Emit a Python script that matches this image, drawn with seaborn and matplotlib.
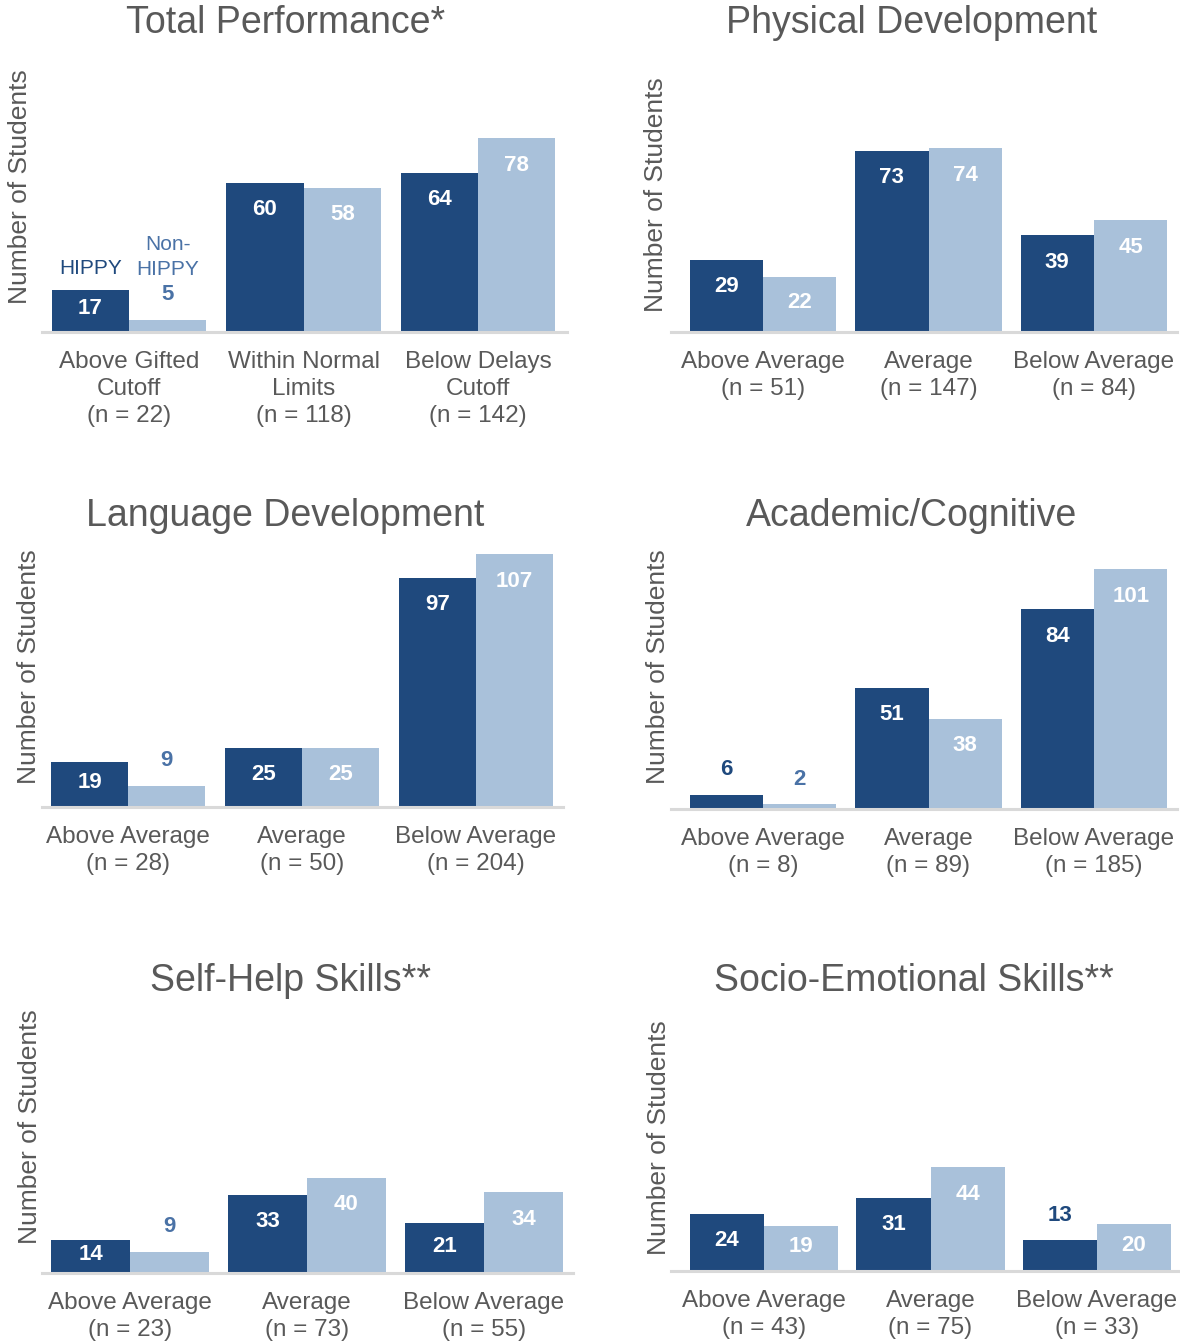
import matplotlib
matplotlib.use("Agg")
import matplotlib.pyplot as plt
import seaborn as sns
import pandas as pd

sns.set_theme(style="white")
plt.rcParams["font.family"] = ["Liberation Sans", "DejaVu Sans"]

# ---- data -------------------------------------------------------------
groups = ["HIPPY", "Non-HIPPY"]

total_cats = ["Above Gifted\nCutoff\n(n = 22)", "Within Normal\nLimits\n(n = 118)",
              "Below Delays\nCutoff\n(n = 142)"]
total_hippy = [17, 60, 64]
total_non = [5, 58, 78]

phys_cats = ["Above Average\n(n = 51)", "Average\n(n = 147)", "Below Average\n(n = 84)"]
phys_hippy = [29, 73, 39]
phys_non = [22, 74, 45]

lang_cats = ["Above Average\n(n = 28)", "Average\n(n = 50)", "Below Average\n(n = 204)"]
lang_hippy = [19, 25, 97]
lang_non = [9, 25, 107]

acad_cats = ["Above Average\n(n = 8)", "Average\n(n = 89)", "Below Average\n(n = 185)"]
acad_hippy = [6, 51, 84]
acad_non = [2, 38, 101]

self_cats = ["Above Average\n(n = 23)", "Average\n(n = 73)", "Below Average\n(n = 55)"]
self_hippy = [14, 33, 21]
self_non = [9, 40, 34]

socio_cats = ["Above Average\n(n = 43)", "Average\n(n = 75)", "Below Average\n(n = 33)"]
socio_hippy = [24, 31, 13]
socio_non = [19, 44, 20]

titles = ["Total Performance*", "Physical Development", "Language Development",
          "Academic/Cognitive", "Self-Help Skills**", "Socio-Emotional Skills**"]

# ---- style ------------------------------------------------------------
DARK = "#1F497D"
LIGHT = "#A9C1DA"
MID = "#4A72A6"
GREY = "#595959"
AXIS = "#D9D9D9"

W, H = 1180, 1344
fig = plt.figure(figsize=(W / 100, H / 100), dpi=100)
PX = 72 / 100  # points per pixel


def panel(cats, hippy, non, title, box, centers, scale, ylab_xy, title_xy,
          width=0.89, legend=False):
    L, R, B = box
    c0, c2 = centers
    top = B - 270
    ax = fig.add_axes([L / W, 1 - B / H, (R - L) / W, (B - top) / H])
    df = pd.DataFrame({
        "category": cats * 2,
        "group": [groups[0]] * 3 + [groups[1]] * 3,
        "count": list(hippy) + list(non),
    })
    sns.barplot(data=df, x="category", y="count", hue="group", order=cats,
                hue_order=groups, palette=[DARK, LIGHT], width=width,
                linewidth=0, saturation=1, legend=False, ax=ax)
    spacing = (c2 - c0) / 2
    ax.set_xlim((L - c0) / spacing, (R - c0) / spacing)
    ax.set_ylim(0, (B - top) / scale)
    for s in ["top", "left", "right"]:
        ax.spines[s].set_visible(False)
    ax.spines["bottom"].set_color(AXIS)
    ax.spines["bottom"].set_linewidth(2.2)
    ax.set_yticks([])
    ax.set_xlabel("")
    ax.tick_params(axis="x", length=0, pad=14, labelsize=17.5, labelcolor=GREY)
    for lbl in ax.get_xticklabels():
        lbl.set_linespacing(1.29)
    ax.set_ylabel("Number of Students", fontsize=19, color=GREY)
    lx, ly = ylab_xy
    # label anchor sits on the right-hand edge of the rotated text
    ax.yaxis.set_label_coords((lx + 14 - L) / (R - L), (B - ly) / (B - top))

    # value labels
    for k, cont in enumerate(ax.containers):
        above_col = DARK if k == 0 else MID
        for bar in cont:
            v = bar.get_height()
            xc = bar.get_x() + bar.get_width() / 2
            hpx = v * scale
            if hpx < 32:
                ax.annotate(f"{v:.0f}", (xc, v), xytext=(0, 25 * PX),
                            textcoords="offset points", ha="center", va="center",
                            fontsize=16, fontweight="bold", color=above_col)
            else:
                off = min(27, hpx / 2 - 2)
                ax.annotate(f"{v:.0f}", (xc, v), xytext=(0, -off * PX),
                            textcoords="offset points", ha="center", va="center",
                            fontsize=16, fontweight="bold", color="white")
    if legend:
        d = ax.containers[0][0]
        n = ax.containers[1][0]
        dx = d.get_x() + d.get_width() / 2
        nx = n.get_x() + n.get_width() / 2
        ax.annotate("HIPPY", (dx, d.get_height()), xytext=(0, 21 * PX),
                    textcoords="offset points", ha="center", va="center",
                    fontsize=15, color=DARK)
        ax.annotate("HIPPY", (nx, n.get_height()), xytext=(0, 50 * PX),
                    textcoords="offset points", ha="center", va="center",
                    fontsize=15, color=MID)
        ax.annotate("Non-", (nx, n.get_height()), xytext=(0, 75 * PX),
                    textcoords="offset points", ha="center", va="center",
                    fontsize=15, color=MID)
    tx, ty = title_xy
    fig.text(tx / W, 1 - ty / H, title, ha="center", va="center",
             fontsize=27, color=GREY)
    return ax


panel(total_cats, total_hippy, total_non, titles[0], (42, 567, 332), (129, 478),
      2.485, (18, 187), (286, 23), width=0.888, legend=True)
panel(phys_cats, phys_hippy, phys_non, titles[1], (671, 1177, 332), (763, 1094),
      2.486, (654, 195), (912, 23), width=0.888)
panel(lang_cats, lang_hippy, lang_non, titles[2], (42, 563, 807), (128, 476),
      2.364, (27, 667), (285, 516), width=0.885)
panel(acad_cats, acad_hippy, acad_non, titles[3], (671, 1177, 809), (763, 1094),
      2.376, (656, 667), (912, 516), width=0.888)
panel(self_cats, self_hippy, self_non, titles[4], (42, 573, 1273), (130, 484),
      2.375, (28, 1127), (290, 981), width=0.89)
panel(socio_cats, socio_hippy, socio_non, titles[5], (671, 1180, 1271), (764, 1097),
      2.36, (657, 1138), (914, 981), width=0.889)

fig.savefig("out.png", dpi=100, facecolor="white")
